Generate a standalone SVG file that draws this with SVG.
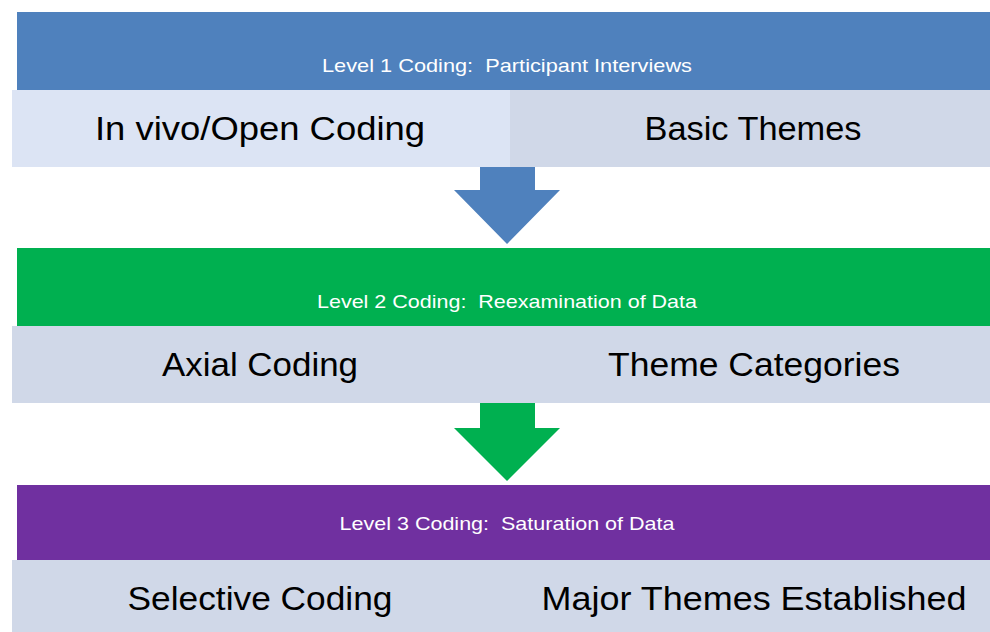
<svg xmlns="http://www.w3.org/2000/svg" width="990" height="632" viewBox="0 0 990 632">
<style>
.hdr{font-family:"Liberation Sans",Arial,sans-serif;font-size:19px;fill:#ffffff;text-anchor:middle;white-space:pre}
.lbl{font-family:"Liberation Sans",Arial,sans-serif;font-size:34px;fill:#000000;text-anchor:middle}
</style>
<rect width="990" height="632" fill="#ffffff"/>
<g id="connectors">
<polygon points="480,167 535,167 535,190 560,190 507,244 454,190 480,190" fill="#4F81BD"/>
<polygon points="480,403 535,403 535,428 560,428 507,481 454,428 480,428" fill="#00B050"/>
</g>
<g id="level1">
<rect x="17" y="12" width="973" height="78" fill="#4F81BD"/>
<text class="hdr" x="507" y="72" textLength="370" lengthAdjust="spacingAndGlyphs" xml:space="preserve">Level 1 Coding:  Participant Interviews</text>
</g>
<g id="basic-themes">
<rect x="505" y="90" width="485" height="77" fill="#D0D8E8"/>
<text class="lbl" x="753" y="140" textLength="217" lengthAdjust="spacingAndGlyphs">Basic Themes</text>
</g>
<g id="open-coding">
<rect x="12" y="90" width="498" height="77" fill="#DCE4F4"/>
<text class="lbl" x="260" y="140" textLength="330" lengthAdjust="spacingAndGlyphs">In vivo/Open Coding</text>
</g>
<g id="level2">
<rect x="17" y="248" width="973" height="78" fill="#00B050"/>
<text class="hdr" x="507" y="308" textLength="380" lengthAdjust="spacingAndGlyphs" xml:space="preserve">Level 2 Coding:  Reexamination of Data</text>
</g>
<g id="axial-coding">
<rect x="12" y="326" width="978" height="77" fill="#D0D8E8"/>
<text class="lbl" x="260" y="376" textLength="196" lengthAdjust="spacingAndGlyphs">Axial Coding</text>
<text class="lbl" x="754" y="376" textLength="292" lengthAdjust="spacingAndGlyphs">Theme Categories</text>
</g>
<g id="level3">
<rect x="17" y="485" width="973" height="75" fill="#7030A0"/>
<text class="hdr" x="507" y="530" textLength="335" lengthAdjust="spacingAndGlyphs" xml:space="preserve">Level 3 Coding:  Saturation of Data</text>
</g>
<g id="selective-coding">
<rect x="12" y="560" width="978" height="72" fill="#D0D8E8"/>
<text class="lbl" x="260" y="610" textLength="265" lengthAdjust="spacingAndGlyphs">Selective Coding</text>
<text class="lbl" x="754" y="610" textLength="425" lengthAdjust="spacingAndGlyphs">Major Themes Established</text>
</g>
</svg>
